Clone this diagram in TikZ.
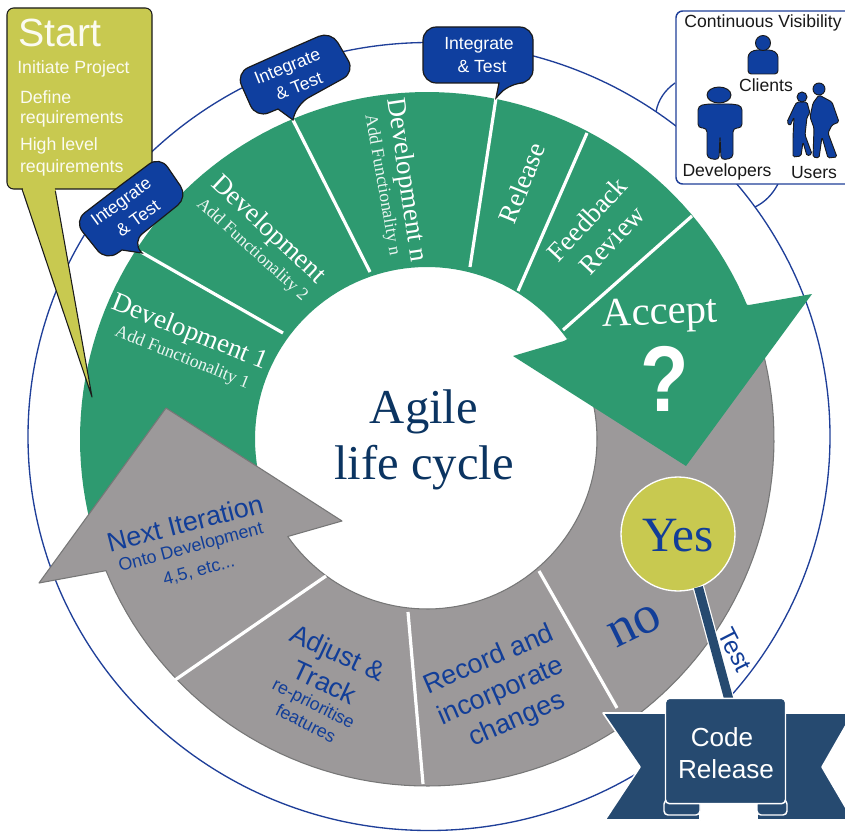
\documentclass[tikz,border=0pt]{standalone}
\usepackage{fontspec}
\setmainfont{Liberation Serif}
\setsansfont{Liberation Sans}
\definecolor{ringgreen}{HTML}{2E9A70}
\definecolor{ringgray}{HTML}{9C999A}
\definecolor{grayline}{HTML}{777777}
\definecolor{olive}{HTML}{C8C950}
\definecolor{callblue}{HTML}{0F3F9F}
\definecolor{textblue}{HTML}{123E98}
\definecolor{ringblue}{HTML}{1F3F99}
\definecolor{navy}{HTML}{264A70}
\definecolor{titleblue}{HTML}{0B3461}
\definecolor{boxedge}{HTML}{1A1A1A}
\newcommand\fz[1]{\fontsize{#1}{#1}\selectfont}
\newcommand\ringcx{427}
\newcommand\ringcy{439}
\tikzset{
  lbl/.style={inner sep=0pt,outer sep=0pt,anchor=center},
  serifw/.style={lbl,text=white,font=\fz{20.2}\rmfamily},
  serifs/.style={lbl,text=white!90!ringgreen,font=\fz{13.3}\rmfamily},
  blueb/.style={lbl,text=textblue,font=\fz{20.2}\sffamily},
  blues/.style={lbl,text=textblue,font=\fz{13.4}\sffamily},
  calltxt/.style={lbl,text=white,font=\fz{13.2}\sffamily},
  starttxt/.style={lbl,text=white!92!olive,font=\fz{13.3}\sffamily},
  vistxt/.style={lbl,text=black!90,font=\fz{13.2}\sffamily},
  title/.style={lbl,text=titleblue,font=\fz{36.5}\rmfamily},
  callout/.style={fill=callblue,draw=boxedge,line width=0.9pt},
  divider/.style={draw=white,line width=2.4pt},
  person/.style={fill=callblue,draw=boxedge,line width=0.7pt},
  wing/.style={fill=navy,draw=white,line width=1.2pt,line join=round},
}
\begin{document}
\begin{tikzpicture}[x=0.75pt,y=-0.75pt]
\clip (0,0) rectangle (845,831);
\fill[white] (0,0) rectangle (845,831);

% outer blue ring and the arcs joining it to the visibility box
\draw[ringblue,line width=1pt] (429,436.5) ellipse [x radius=401,y radius=394];
\draw[ringblue,line width=1pt] (675,83) .. controls (665,90) and (658,100) .. (656,112);
\draw[ringblue,line width=1pt] (778,184) .. controls (772,195) and (765,202) .. (755,207);

% green band
\fill[ringgreen] plot[domain=-22.6:-200,samples=90] ({\ringcx+347*cos(\x)},{\ringcy+347*sin(\x)})
  -- plot[domain=-200:-35.6,samples=70] ({\ringcx+172*cos(\x)},{\ringcy+172*sin(\x)}) -- cycle;

% grey band with its arrow head
\draw[fill=ringgray,draw=grayline,line width=0.8pt,line join=round]
  plot[domain=157.7:-15,samples=90] ({\ringcx+347*cos(\x)},{\ringcy+347*sin(\x)})
  -- plot[domain=-15:145,samples=70] ({\ringcx+170*cos(\x)},{\ringcy+170*sin(\x)})
  -- (342,521) -- (166,408) -- (39,583) -- cycle;

% green arrow head
\fill[ringgreen] (749,305) -- (812,294) -- (686,466) -- (513,356) -- (564,341) -- (650,290) -- cycle;

% dividers
\draw[divider] (141,252) -- (283,333);
\draw[divider] (293,120) -- (370,272);
\draw[divider] (496,98) -- (470,267);
\draw[divider] (587,133) -- (518,291);
\draw[divider] (692,216) -- (563,330);
\draw[divider] (326,576) -- (175,680);
\draw[divider] (408,612) -- (423,784);
\draw[divider] (539,571) -- (617,708);

% green band labels
\node[serifw,rotate=-21.6] (dev1) at (190,333) {Development 1};
\node[serifs,rotate=-21.8] (dev1s) at (182,358) {Add Functionality 1};
\node[serifw,rotate=-43] (dev2) at (268,230) {Development};
\node[serifs,rotate=-42] (dev2s) at (252,250) {Add Functionality 2};
\node[serifw,rotate=-81.5] (devn) at (406,180) {Development n};
\node[serifs,rotate=-80] (devns) at (382,185) {Add Functionality n};
\node[serifw,rotate=68] (rel) at (522,183) {Release};
\node[serifw,rotate=47] (fb) at (587,219) {Feedback};
\node[serifw,rotate=47] (rev) at (612,240) {Review};
\node[lbl,text=white,font=\fz{30.5}\rmfamily,rotate=2] (acc) at (660,315) {Accept};
\node[lbl,text=white,font=\fz{70}\sffamily\bfseries] (qm) at (665,379) {\scalebox{0.85}[1]{?}};

% grey band labels
\node[blueb,rotate=14.5] (next) at (185,523) {Next Iteration};
\node[blues,rotate=15] (onto) at (191,548) {Onto Development};
\node[blues,rotate=15] (etc) at (199,571) {4,5, etc...};
\node[blueb,rotate=-25] (adj) at (337,655) {Adjust \&};
\node[blueb,rotate=-25] (trk) at (325,682) {Track};
\node[blues,rotate=-27] (rep) at (313,705) {re-prioritise};
\node[blues,rotate=-27] (fea) at (306,723) {features};
\node[blueb,rotate=23.5] (rec1) at (488,658) {Record and};
\node[blueb,rotate=23.5] (rec2) at (501,692) {incorporate};
\node[blueb,rotate=23.5] (rec3) at (517,720) {changes};
\node[lbl,text=textblue,font=\fz{40}\rmfamily,rotate=26] (no) at (635,626) {no};

% centre
\node[title] (agile) at (424,412) {Agile};
\node[title] (life) at (424,468) {life cycle};

% start box
\draw[fill=olive,draw=boxedge,line width=0.8pt,line join=round] (22,189) -- (92,397) -- (55,189);
\draw[fill=olive,draw=boxedge,line width=0.8pt,rounded corners=5pt] (7,8) rectangle (152,189);
\fill[olive] (23,187) -- (54,187) -- (56,191) -- (23,191) -- cycle;
\node[lbl,text=white!92!olive,font=\fz{29.5}\sffamily] (start) at (60,33) {Start};
\node[starttxt] (init) at (73.5,69) {Initiate Project};
\node[starttxt,anchor=west] (def1) at (20,97) {Define};
\node[starttxt,anchor=west] (def2) at (20,118.5) {requirements};
\node[starttxt,anchor=west] (hl1) at (20,146) {High level};
\node[starttxt,anchor=west] (hl2) at (20,167.5) {requirements};

% integrate callouts
\draw[callout,rounded corners=10pt] (117,188) -- (160,156) -- (188,197) -- (132,242)
  [sharp corners] -- (142,253) -- (122,250) [rounded corners=10pt] -- (106,261) -- (74,221) -- cycle;
\node[calltxt,rotate=36] (it1a) at (122,203) {Integrate};
\node[calltxt,rotate=36] (it1b) at (138,218) {\& Test};
\draw[callout,rounded corners=10pt] (283,52) -- (331,31) -- (355,72) -- (297,104)
  [sharp corners] -- (293,120) -- (278,109) [rounded corners=10pt] -- (256,118) -- (236,73) -- cycle;
\node[calltxt,rotate=22] (it2a) at (288,68) {Integrate};
\node[calltxt,rotate=22] (it2b) at (299,86) {\& Test};
\draw[callout,rounded corners=10pt] (478,27) -- (533,27) -- (533,83) -- (510,83)
  [sharp corners] -- (496,98) -- (499,83) [rounded corners=10pt] -- (423,83) -- (423,27) -- cycle;
\node[calltxt] (it3a) at (479,45) {Integrate};
\node[calltxt] (it3b) at (482,66) {\& Test};

% visibility box
\draw[fill=white,draw=ringblue,line width=1.1pt,rounded corners=5pt] (676,11) rectangle (860,184);
\node[vistxt] (vis) at (763,23) {Continuous Visibility};
\node[vistxt] (cli) at (766,85) {Clients};
\node[vistxt] (dvl) at (727,172) {Developers};
\node[vistxt] (usr) at (814,172.5) {Users};
% client figure
\draw[person,rounded corners=2.5pt] (748,74) -- (748,54) -- (754,50) -- (772,50) -- (778,54) -- (778,74) -- cycle;
\draw[person] (763,43) circle [radius=7.5];
% developer figure
\draw[person,rounded corners=3pt] (707,104) -- (698,106) -- (698,128) -- (707,128) -- (707,158) -- (719,160) -- (720,135)
  -- (721,160) -- (733,158) -- (733,128) -- (742,128) -- (742,106) -- (733,104) -- cycle;
\draw[person] (719,95) ellipse [x radius=12,y radius=8];
% user figures
\draw[person,rounded corners=1.2pt] (795,105) -- (787,122) -- (790,126) -- (794,117) -- (793,137) -- (793,157) -- (801,156)
  -- (803,142) -- (807,156) -- (812,154) -- (805,135) -- (807,117) -- (810,113) -- (808,106) -- (807,102) -- (797,102) -- cycle;
\draw[person] (802,97) circle [radius=5];
\draw[person,rounded corners=1.2pt] (819,95) -- (832,102) -- (839,122) -- (832,125) -- (828,133) -- (837,157) -- (828,158)
  -- (822,137) -- (819,158) -- (813,157) -- (814,128) -- (810,117) -- (813,103) -- cycle;
\draw[person] (819,89) circle [radius=6];

% code release banner (wings first, box on top)
\draw[wing] (603,713) -- (700,713) -- (700,820) -- (605,820) -- (640,767) -- cycle;
\draw[wing] (757,713) -- (853,713) -- (822,767) -- (853,820) -- (757,820) -- cycle;
\draw[fill=navy,draw=white,line width=1.1pt,rounded corners=3pt] (664,800) rectangle (700,815);
\draw[fill=navy,draw=white,line width=1.1pt,rounded corners=3pt] (757,800) rectangle (787,815);
\coordinate (stickend) at (729,700);
\node[lbl,circle,fill=olive,draw=white,line width=1pt,minimum size=85.5pt] (yes) at (678,534) {};
\draw[draw=white,line width=8.6pt] (yes.-69) -- (stickend);
\draw[draw=navy,line width=6.8pt] (yes.-69) -- (stickend);
\node[lbl,text=textblue,font=\fz{37}\rmfamily] (yestxt) at (678,536) {Yes};
\node[lbl,text=textblue,font=\fz{18.5}\sffamily,rotate=-63] (test) at (735,650) {Test};
\node[lbl,rectangle,rounded corners=3pt,fill=navy,draw=white,line width=1.1pt,minimum width=90pt,minimum height=79pt] (codebox) at (725.5,751) {};
\node[lbl,text=white,font=\fz{19.6}\sffamily] (code) at (722,737) {Code};
\node[lbl,text=white,font=\fz{19.6}\sffamily] (rels) at (726,769) {Release};
\end{tikzpicture}
\end{document}
